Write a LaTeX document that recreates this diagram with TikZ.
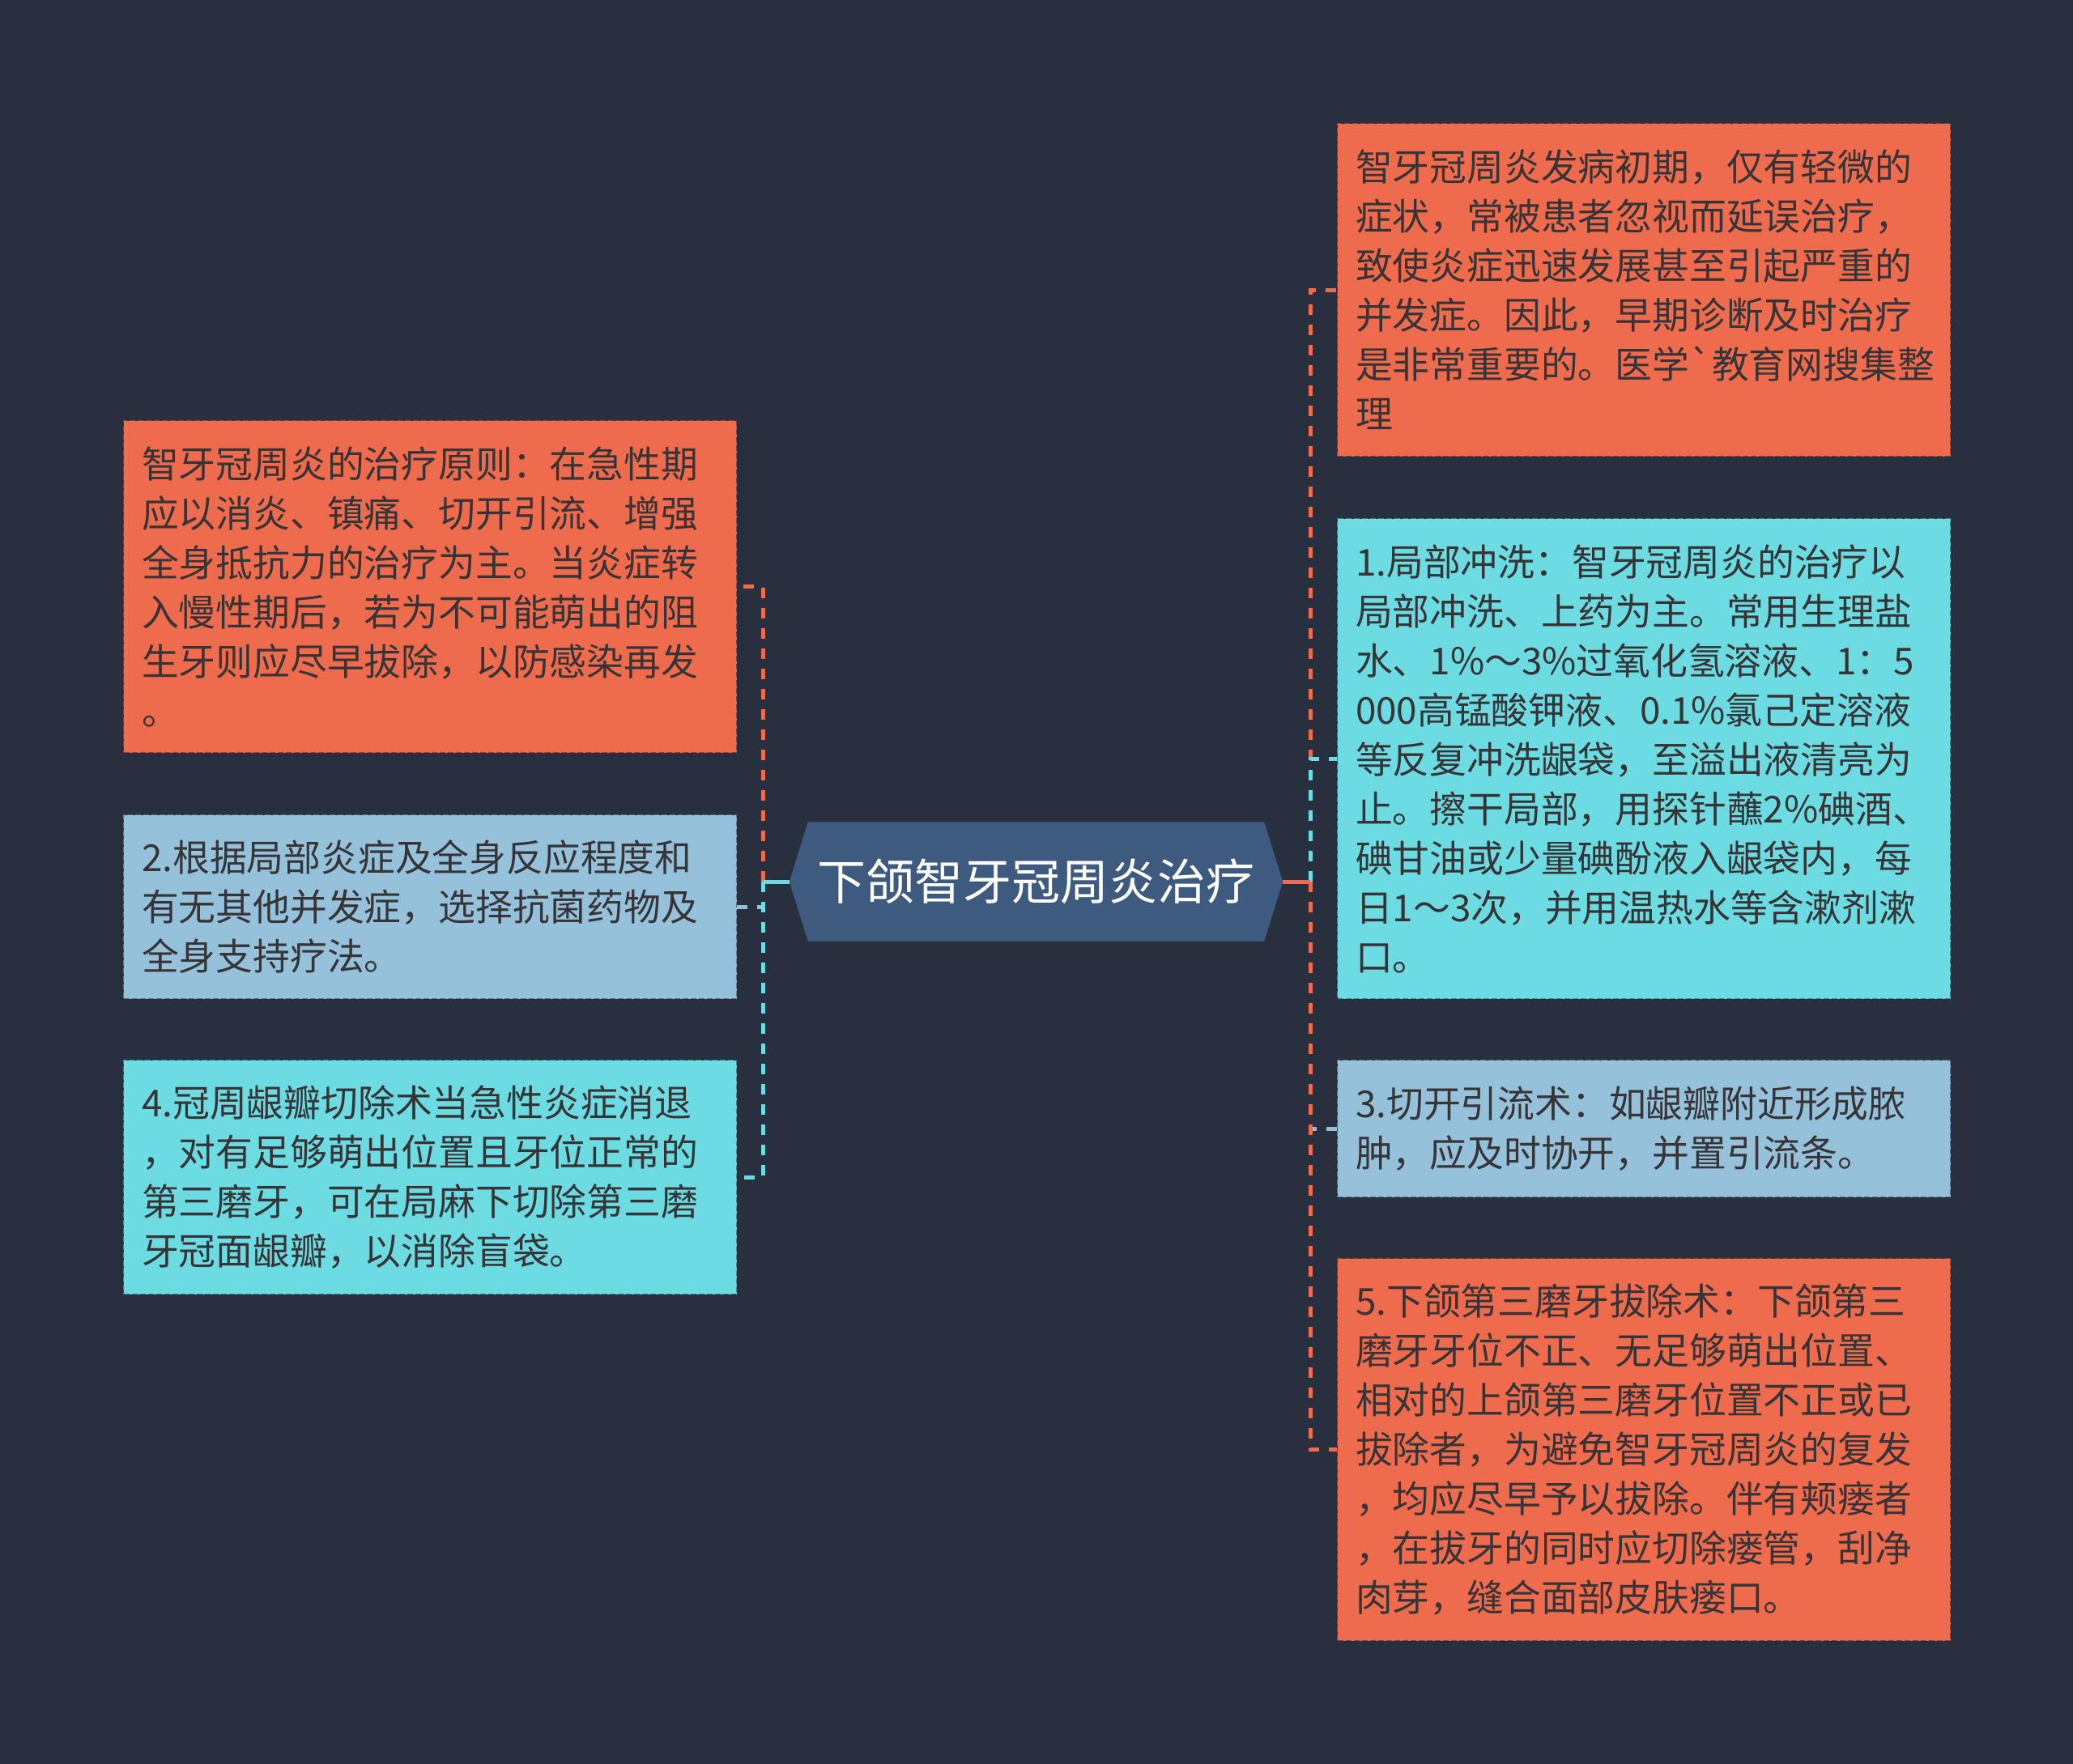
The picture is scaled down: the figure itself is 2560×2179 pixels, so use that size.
\documentclass[tikz,border=0pt]{standalone}
\usepackage{fontspec}
\newfontfamily\cjkf{Noto Sans CJK SC}
\usetikzlibrary{backgrounds}
\definecolor{bgc}{HTML}{28303F}
\definecolor{oc}{HTML}{EF6B4D}
\definecolor{cc}{HTML}{6DDCE2}
\definecolor{lb}{HTML}{96C1DB}
\definecolor{cn}{HTML}{3E5A7F}
\definecolor{txt}{HTML}{363436}
\begin{document}
\begin{tikzpicture}[x=1pt,y=-1pt,
  box/.style={fill=#1, draw=#1!60!black, dash pattern=on 7pt off 3pt, line width=1.2pt,
    anchor=north west, minimum width=757pt, text width=712pt, inner xsep=22pt, inner ysep=0pt,
    align=left, font=\cjkf\fontsize{45.8}{61}\selectfont, text=txt},
  link/.style={line width=5pt, dash pattern=on 13pt off 12pt},
  stub/.style={line width=5pt}]
\useasboundingbox (0,0) rectangle (2560,2179);
\begin{scope}[on background layer]
\fill[bgc] (0,0) rectangle (2560,2179);
\end{scope}

% center node
\node[minimum width=609pt, minimum height=147pt, inner sep=0pt, text=white,
  font=\cjkf\fontsize{60}{70}\selectfont] (c) at (1279.5,1089) {下颌智牙冠周炎治疗};
\begin{scope}[on background layer]
\fill[cn] (c.west) -- ([xshift=23pt]c.north west) -- ([xshift=-23pt]c.north east) -- (c.east)
  -- ([xshift=-23pt]c.south east) -- ([xshift=23pt]c.south west) -- cycle;
\end{scope}

% right boxes
\node[box=oc, minimum height=411pt] (r1) at (1651,152) {智牙冠周炎发病初期，仅有轻微的\\症状，常被患者忽视而延误治疗，\\致使炎症迅速发展甚至引起严重的\\并发症。因此，早期诊断及时治疗\\是非常重要的。医学`教育网搜集整\\理};
\node[box=cc, minimum height=593pt] (r2) at (1651,640) {1.局部冲洗：智牙冠周炎的治疗以\\局部冲洗、上药为主。常用生理盐\\水、1\%～3\%过氧化氢溶液、1：5\\000高锰酸钾液、0.1\%氯己定溶液\\等反复冲洗龈袋，至溢出液清亮为\\止。擦干局部，用探针蘸2\%碘酒、\\碘甘油或少量碘酚液入龈袋内，每\\日1～3次，并用温热水等含漱剂漱\\口。};
\node[box=lb, minimum height=169pt] (r3) at (1651,1309) {3.切开引流术：如龈瓣附近形成脓\\肿，应及时协开，并置引流条。};
\node[box=oc, minimum height=472pt] (r4) at (1651,1554) {5.下颌第三磨牙拔除术：下颌第三\\磨牙牙位不正、无足够萌出位置、\\相对的上颌第三磨牙位置不正或已\\拔除者，为避免智牙冠周炎的复发\\，均应尽早予以拔除。伴有颊瘘者\\，在拔牙的同时应切除瘘管，刮净\\肉芽，缝合面部皮肤瘘口。};

% left boxes
\node[box=oc, minimum height=410pt] (l1) at (152,519) {智牙冠周炎的治疗原则：在急性期\\应以消炎、镇痛、切开引流、增强\\全身抵抗力的治疗为主。当炎症转\\入慢性期后，若为不可能萌出的阻\\生牙则应尽早拔除，以防感染再发\\。};
\node[box=lb, minimum height=227pt] (l2) at (152,1006) {2.根据局部炎症及全身反应程度和\\有无其他并发症，选择抗菌药物及\\全身支持疗法。};
\node[box=cc, minimum height=289pt] (l3) at (152,1309) {4.冠周龈瓣切除术当急性炎症消退\\，对有足够萌出位置且牙位正常的\\第三磨牙，可在局麻下切除第三磨\\牙冠面龈瓣，以消除盲袋。};

% trunks
\coordinate (rt) at (1618,1089);
\coordinate (lt) at (942,1089);

% right connectors
\draw[link, oc] (rt) |- (r1.west);
\draw[link, cc] (rt) |- (r2.west);
\draw[link, lb] (rt) |- (r3.west);
\draw[link, oc] (rt) |- (r4.west);
\draw[stub, oc] (c.east) -- (rt);

% left connectors
\draw[link, oc] (lt) |- (l1.east);
\draw[link, lb] (lt) |- (l2.east);
\draw[link, cc] (lt) |- (l3.east);
\draw[stub, cc] (c.west) -- (lt);
\end{tikzpicture}
\end{document}
